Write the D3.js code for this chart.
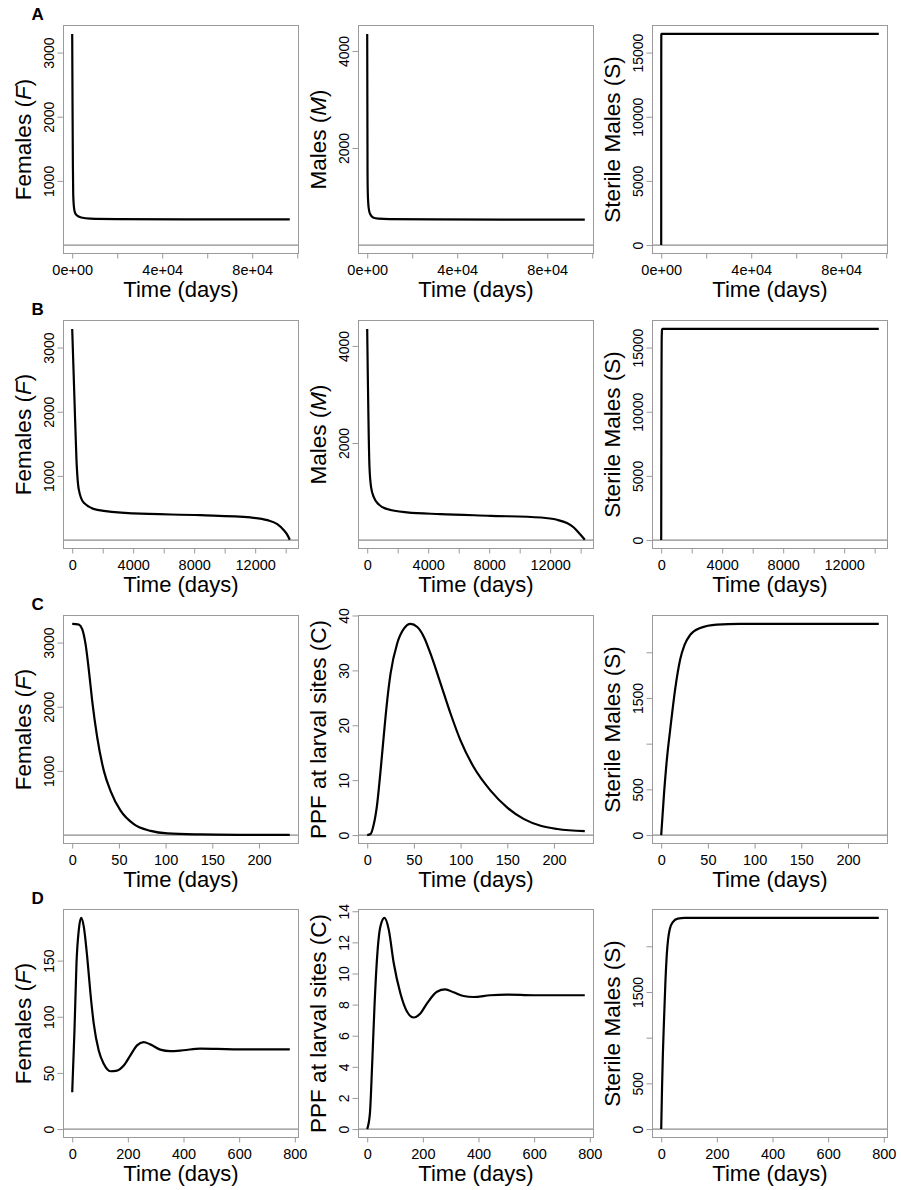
<!DOCTYPE html>
<html>
<head>
<meta charset="utf-8">
<script src="https://cdn.jsdelivr.net/npm/d3@7"></script>
<style>
  html, body { margin: 0; padding: 0; background: #fff; }
  svg { display: block; font-family: "Liberation Sans", Arial, Helvetica, sans-serif; }
</style>
</head>
<body>
<svg id="chart" width="901" height="1190"></svg>
<script>
// ---- Time series: [time (days), value] ----

// Scenario A
const femalesA = [[0,3290],[150,2180],[300,1250],[450,790],[750,600],[1200,510],[2000,465],[4000,430],[8000,412],[20000,405],[50000,401],[96700,400]];
const malesA   = [[0,4350],[150,1500],[260,1080],[440,880],[770,730],[1300,640],[2600,570],[5000,545],[10000,535],[30000,528],[60000,526],[96700,525]];
const sterileA = [[0,0],[5,3800],[10,7360],[15,10400],[20,12900],[30,15500],[42,16150],[60,16400],[100,16450],[96700,16450]];

// Scenario B
const femalesB = [[0,3290],[150,2180],[280,1250],[430,790],[760,580],[1640,470],[4000,415],[8400,388],[11700,352],[12800,310],[13450,248],[13880,154],[14100,85],[14270,5]];
const malesB   = [[0,4350],[150,1500],[260,1080],[440,880],[770,730],[1300,640],[2600,570],[4800,535],[8100,500],[11400,465],[12450,418],[13100,350],[13550,259],[13950,123],[14270,5]];
const sterileB = [[0,0],[5,3800],[10,7360],[15,10400],[20,12900],[30,15500],[42,16150],[60,16400],[100,16450],[14270,16450]];

// Scenario C
const femalesC = [[0,3290],[4,3288],[7,3280],[10.7,3210],[14.3,2975],[17.9,2560],[21.4,2090],[26.8,1520],[33.9,1000],[41,690],[51.8,380],[66,170],[84,65],[102,25],[137,10],[180,4],[233,2]];
const ppfC     = [[0,0],[3.6,0.2],[7.1,2.0],[10.7,5.7],[14.3,11.7],[17.9,18.4],[21.4,24.5],[25,29.4],[32.1,34.9],[39.3,37.6],[46.4,38.46],[53.6,37.9],[60.7,36.1],[67.9,33.0],[78.6,27.6],[89.3,22.1],[100,17.2],[114.3,12.3],[132.1,8.1],[150,5.0],[167.9,2.9],[185.7,1.7],[203.6,1.1],[233,0.7]];
const sterileC = [[0,0],[3,450],[6,820],[9.6,1150],[15,1600],[20.3,1920],[25,2080],[31,2190],[41.7,2265],[59.5,2303],[84,2310],[233,2310]];

// Scenario D
const femalesD = [[0,32.8],[8.2,88],[15.4,147.6],[23.7,177.4],[32.2,188],[41.6,180.3],[53.8,153.5],[65.6,120.7],[77.4,93.9],[95.3,70],[113.3,58.1],[137.3,51.5],[161.3,52.1],[185.3,56.6],[209,65.6],[233,74.5],[256.6,77.5],[280.6,75.4],[316.5,70.7],[352.3,69.4],[400,70.2],[460,71.6],[520,71.4],[600,71.0],[782,71.0]];
const ppfD     = [[0,0],[9.6,0.97],[17.9,4.2],[26.1,7.86],[35.8,11.1],[47.6,13.03],[62,13.57],[77.4,12.82],[95.3,10.67],[119.2,8.73],[143.3,7.54],[167,7.17],[191,7.43],[215,8.08],[250.7,8.83],[280.5,8.98],[310.3,8.79],[346,8.55],[382,8.49],[441.7,8.6],[501.4,8.64],[600,8.6],[782,8.6]];
const sterileD = [[0,0],[3,450],[6,820],[9.6,1150],[15,1600],[20.3,1920],[25,2080],[31,2190],[41.7,2265],[59.5,2303],[84,2310],[782,2310]];

// ---- Axis ticks and tick labels ("" = tick without label) ----
const xTicksA  = [0, 20000, 40000, 60000, 80000, 100000];
const xLabelsA = ["0e+00", "", "4e+04", "", "8e+04", ""];
const xTicksB  = [0, 2000, 4000, 6000, 8000, 10000, 12000, 14000];
const xLabelsB = ["0", "", "4000", "", "8000", "", "12000", ""];
const xTicksC  = [0, 50, 100, 150, 200];
const xLabelsC = ["0", "50", "100", "150", "200"];
const xTicksD  = [0, 200, 400, 600, 800];
const xLabelsD = ["0", "200", "400", "600", "800"];

const yTicksFemales  = [1000, 2000, 3000];
const yLabelsFemales = ["1000", "2000", "3000"];
const yTicksMales    = [2000, 4000];
const yLabelsMales   = ["2000", "4000"];
const yTicksSterileBig  = [0, 5000, 10000, 15000];
const yLabelsSterileBig = ["0", "5000", "10000", "15000"];
const yTicksSterile  = [0, 500, 1000, 1500, 2000];
const yLabelsSterile = ["0", "500", "", "1500", ""];
const yTicksPpfC  = [0, 10, 20, 30, 40];
const yLabelsPpfC = ["0", "10", "20", "30", "40"];
const yTicksFemD  = [0, 50, 100, 150];
const yLabelsFemD = ["0", "50", "100", "150"];
const yTicksPpfD  = [0, 2, 4, 6, 8, 10, 12, 14];
const yLabelsPpfD = ["0", "2", "4", "6", "8", "10", "12", "14"];

const rowLetters = ["A", "B", "C", "D"];

// Axis titles: pieces of [text, italic]
const titleFemales = [["Females (", false], ["F", true], [")", false]];
const titleMales   = [["Males (", false], ["M", true], [")", false]];
const titleSterile = [["Sterile Males (S)", false]];
const titlePpf     = [["PPF at larval sites (C)", false]];
const titleTime    = "Time (days)";

// ---- Panel layout ----
const panels = [
  { row: 0, col: 0, data: femalesA, title: titleFemales, xt: xTicksA, xl: xLabelsA, yt: yTicksFemales, yl: yLabelsFemales },
  { row: 0, col: 1, data: malesA,   title: titleMales,   xt: xTicksA, xl: xLabelsA, yt: yTicksMales,   yl: yLabelsMales },
  { row: 0, col: 2, data: sterileA, title: titleSterile, xt: xTicksA, xl: xLabelsA, yt: yTicksSterileBig, yl: yLabelsSterileBig },
  { row: 1, col: 0, data: femalesB, title: titleFemales, xt: xTicksB, xl: xLabelsB, yt: yTicksFemales, yl: yLabelsFemales },
  { row: 1, col: 1, data: malesB,   title: titleMales,   xt: xTicksB, xl: xLabelsB, yt: yTicksMales,   yl: yLabelsMales },
  { row: 1, col: 2, data: sterileB, title: titleSterile, xt: xTicksB, xl: xLabelsB, yt: yTicksSterileBig, yl: yLabelsSterileBig },
  { row: 2, col: 0, data: femalesC, title: titleFemales, xt: xTicksC, xl: xLabelsC, yt: yTicksFemales, yl: yLabelsFemales },
  { row: 2, col: 1, data: ppfC,     title: titlePpf,     xt: xTicksC, xl: xLabelsC, yt: yTicksPpfC,    yl: yLabelsPpfC },
  { row: 2, col: 2, data: sterileC, title: titleSterile, xt: xTicksC, xl: xLabelsC, yt: yTicksSterile, yl: yLabelsSterile },
  { row: 3, col: 0, data: femalesD, title: titleFemales, xt: xTicksD, xl: xLabelsD, yt: yTicksFemD,    yl: yLabelsFemD },
  { row: 3, col: 1, data: ppfD,     title: titlePpf,     xt: xTicksD, xl: xLabelsD, yt: yTicksPpfD,    yl: yLabelsPpfD },
  { row: 3, col: 2, data: sterileD, title: titleSterile, xt: xTicksD, xl: xLabelsD, yt: yTicksSterile, yl: yLabelsSterile }
];

const boxLefts = [63.5, 358.5, 652.5];
const boxTops  = [25.5, 320.5, 615.5, 909.5];
const boxW = 235, boxH = 228;
const frameColor = "#9a9a9a";
const zeroColor = "#8c8c8c";

const svg = d3.select("#chart");

// Row letters
rowLetters.forEach((L, i) => {
  svg.append("text")
    .attr("x", 31.5).attr("y", boxTops[i] - 5.5)
    .attr("font-size", 17).attr("font-weight", "bold")
    .text(L);
});

panels.forEach(p => {
  const left = boxLefts[p.col], top = boxTops[p.row];
  const xmax = d3.max(p.data, d => d[0]);
  const ymax = d3.max(p.data, d => d[1]);
  // 4% padding on both ends of the data range
  const x = d3.scaleLinear().domain([-0.04 * xmax, 1.04 * xmax]).range([left, left + boxW]);
  const y = d3.scaleLinear().domain([-0.04 * ymax, 1.04 * ymax]).range([top + boxH, top]);

  const g = svg.append("g");
  const clipId = `clip-${p.row}-${p.col}`;
  g.append("clipPath").attr("id", clipId)
    .append("rect").attr("x", left).attr("y", top).attr("width", boxW).attr("height", boxH);

  // reference line at zero
  g.append("line")
    .attr("clip-path", `url(#${clipId})`)
    .attr("x1", left).attr("x2", left + boxW)
    .attr("y1", y(0)).attr("y2", y(0))
    .attr("stroke", zeroColor).attr("stroke-width", 1.2);

  // series line
  g.append("path")
    .datum(p.data)
    .attr("clip-path", `url(#${clipId})`)
    .attr("fill", "none").attr("stroke", "#000").attr("stroke-width", 2.2)
    .attr("stroke-linejoin", "round")
    .attr("d", d3.line().x(d => x(d[0])).y(d => y(d[1])).curve(d3.curveMonotoneX));

  // frame
  g.append("rect")
    .attr("x", left).attr("y", top).attr("width", boxW).attr("height", boxH)
    .attr("fill", "none").attr("stroke", frameColor).attr("stroke-width", 1);

  // x axis
  const xLab = new Map(p.xt.map((t, i) => [t, p.xl[i]]));
  const xa = g.append("g")
    .attr("transform", `translate(0,${top + boxH})`)
    .call(d3.axisBottom(x).tickValues(p.xt).tickFormat(d => xLab.get(d)).tickSize(5).tickSizeOuter(0).tickPadding(6));
  xa.select(".domain").remove();
  xa.selectAll(".tick line").attr("stroke", frameColor);
  xa.selectAll(".tick text").attr("font-size", 14.5).attr("fill", "#000")
    .attr("font-family", "Liberation Sans, Arial, Helvetica, sans-serif");

  // y axis (labels parallel to the axis)
  const yLab = new Map(p.yt.map((t, i) => [t, p.yl[i]]));
  const ya = g.append("g")
    .attr("transform", `translate(${left},0)`)
    .call(d3.axisLeft(y).tickValues(p.yt).tickFormat(d => yLab.get(d)).tickSize(6).tickSizeOuter(0));
  ya.select(".domain").remove();
  ya.selectAll(".tick line").attr("stroke", frameColor);
  ya.selectAll(".tick text")
    .attr("x", null).attr("dy", null)
    .attr("text-anchor", "middle")
    .attr("transform", "translate(-9.5,0) rotate(-90)")
    .attr("font-size", 14).attr("fill", "#000")
    .attr("font-family", "Liberation Sans, Arial, Helvetica, sans-serif");

  // x title
  g.append("text")
    .attr("x", left + boxW / 2).attr("y", top + boxH + 43)
    .attr("text-anchor", "middle").attr("font-size", 22)
    .text(titleTime);

  // y title
  const yt = g.append("text")
    .attr("transform", `translate(${left - 33},${top + boxH / 2}) rotate(-90)`)
    .attr("text-anchor", "middle").attr("font-size", 22.5);
  p.title.forEach(([s, it]) => {
    yt.append("tspan").attr("font-style", it ? "italic" : "normal").text(s);
  });
});
</script>
</body>
</html>
